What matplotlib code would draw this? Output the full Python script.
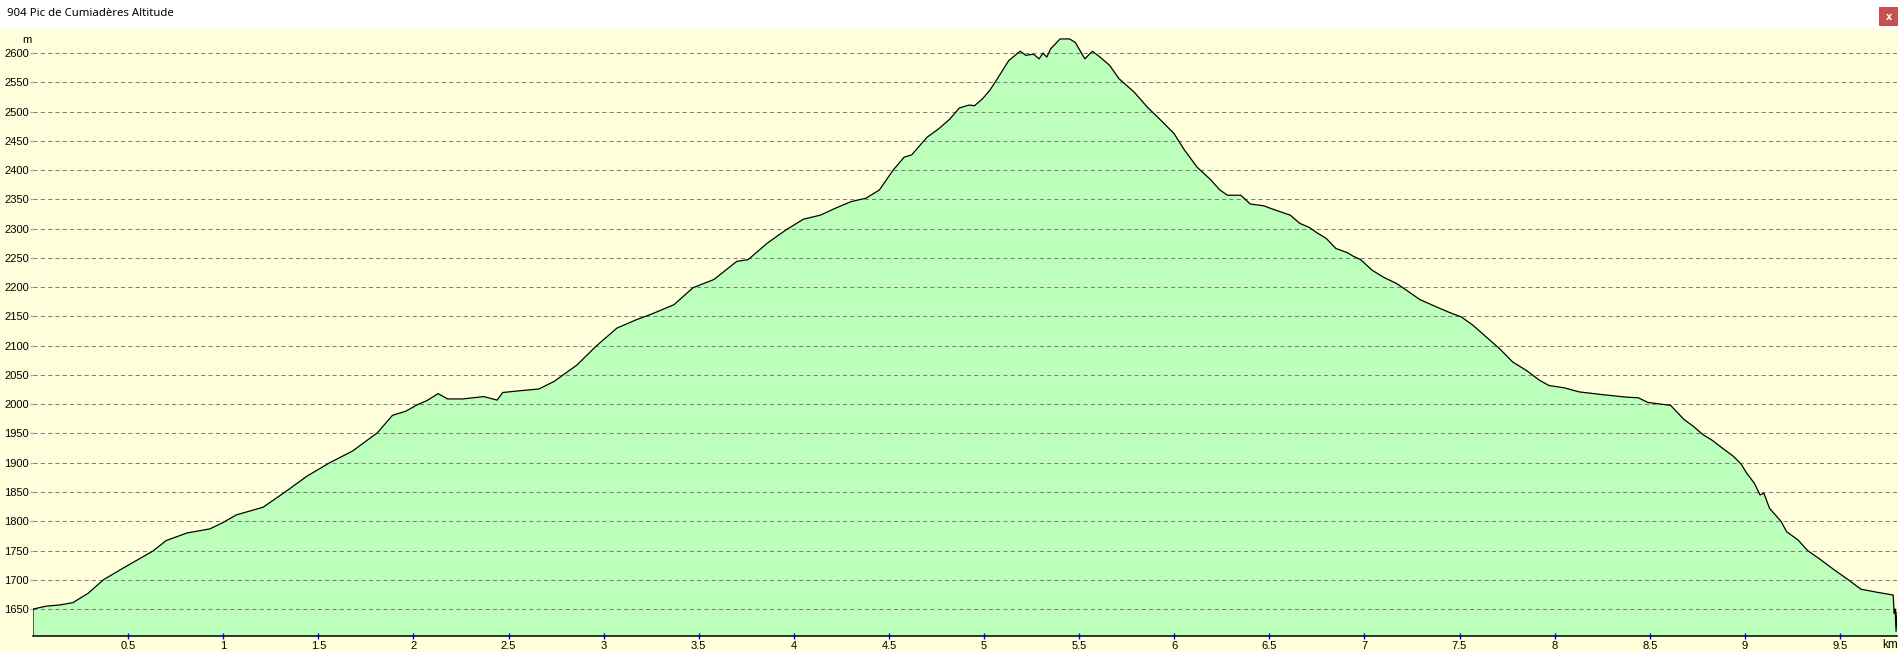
import numpy as np
import matplotlib
matplotlib.use('Agg')
import matplotlib.pyplot as plt
from matplotlib.patches import Rectangle

# profile: distance (km) / altitude (m)
dist_km = [0.00, 0.07, 0.14, 0.21, 0.29, 0.37, 0.49, 0.63, 0.70, 0.81, 0.93, 1.00,
           1.07, 1.21, 1.33, 1.44, 1.56, 1.68, 1.81, 1.89, 1.96, 2.02, 2.07, 2.13,
           2.18, 2.26, 2.37, 2.44, 2.47, 2.56, 2.66, 2.74, 2.86, 2.96, 3.07, 3.17,
           3.26, 3.37, 3.47, 3.58, 3.70, 3.76, 3.86, 3.96, 4.05, 4.14, 4.22, 4.30,
           4.38, 4.45, 4.52, 4.58, 4.62, 4.70, 4.76, 4.82, 4.87, 4.92, 4.95, 4.99,
           5.03, 5.07, 5.13, 5.19, 5.22, 5.26, 5.29, 5.31, 5.33, 5.35, 5.40, 5.45,
           5.48, 5.53, 5.57, 5.61, 5.66, 5.71, 5.79, 5.86, 5.93, 6.00, 6.05, 6.12,
           6.19, 6.24, 6.28, 6.35, 6.40, 6.47, 6.52, 6.61, 6.66, 6.71, 6.75, 6.80,
           6.85, 6.91, 6.94, 6.98, 7.04, 7.10, 7.17, 7.22, 7.29, 7.38, 7.46, 7.51,
           7.57, 7.64, 7.71, 7.78, 7.85, 7.92, 7.97, 8.05, 8.13, 8.26, 8.38, 8.44,
           8.49, 8.61, 8.63, 8.68, 8.73, 8.78, 8.83, 8.89, 8.94, 8.98, 9.01, 9.05,
           9.08, 9.10, 9.13, 9.19, 9.22, 9.28, 9.33, 9.40, 9.47, 9.54, 9.61, 9.69,
           9.78, 9.785, 9.79, 9.795, 9.80]
alt_m = [1650, 1655, 1657, 1661, 1677, 1700, 1723, 1749, 1767, 1780, 1787, 1798,
         1811, 1824, 1851, 1877, 1900, 1920, 1951, 1981, 1988, 1999, 2006, 2018,
         2009, 2009, 2013, 2007, 2020, 2023, 2026, 2039, 2067, 2099, 2130, 2144,
         2155, 2170, 2199, 2213, 2244, 2247, 2275, 2298, 2316, 2323, 2335, 2346,
         2352, 2366, 2399, 2422, 2426, 2456, 2470, 2487, 2506, 2511, 2510, 2521,
         2536, 2556, 2587, 2603, 2596, 2598, 2590, 2600, 2593, 2607, 2624, 2624,
         2618, 2590, 2603, 2593, 2579, 2556, 2533, 2507, 2485, 2462, 2436, 2405,
         2384, 2366, 2357, 2357, 2342, 2339, 2333, 2323, 2309, 2302, 2293, 2283,
         2266, 2259, 2253, 2247, 2229, 2217, 2206, 2195, 2179, 2166, 2155, 2149,
         2135, 2115, 2095, 2072, 2058, 2041, 2032, 2028, 2021, 2016, 2012, 2011,
         2003, 1998, 1991, 1974, 1962, 1948, 1938, 1923, 1911, 1898, 1882, 1865,
         1845, 1848, 1822, 1800, 1782, 1768, 1750, 1734, 1717, 1701, 1684, 1679,
         1674, 1643, 1650, 1612, 1645]

y_ticks = list(range(1650, 2601, 50))
x_ticks = [0.5, 1, 1.5, 2, 2.5, 3, 3.5, 4, 4.5, 5, 5.5, 6, 6.5, 7, 7.5, 8, 8.5, 9, 9.5]
x_labels = ['0.5', '1', '1.5', '2', '2.5', '3', '3.5', '4', '4.5', '5', '5.5',
            '6', '6.5', '7', '7.5', '8', '8.5', '9', '9.5']
title = '904 Pic de Cumiadères Altitude'

y_min, y_max = 1604, 2641
x_max = 9.80

W, H = 1899, 652
fig = plt.figure(figsize=(W / 100, H / 100), dpi=100)
fig.patch.set_facecolor('white')
yellow = '#FFFFDC'
fig.add_artist(Rectangle((0, 0), 1, (H - 29) / H, transform=fig.transFigure,
                         facecolor=yellow, edgecolor='none', zorder=0))

ax = fig.add_axes([33 / W, (H - 636) / H, 1864 / W, 607 / H])
ax.set_facecolor(yellow)
ax.set_xlim(0, x_max)
ax.set_ylim(y_min, y_max)

ax.fill_between(dist_km, alt_m, y_min, color='#BBFFBB', lw=0, zorder=1)
ax.plot([0] + dist_km, [y_min] + alt_m, color='black', lw=0.9, zorder=3)

ax.set_yticks(y_ticks)
ax.set_yticklabels([str(v) for v in y_ticks])
ax.yaxis.grid(True, color='#808080', lw=0.75, linestyle=(0, (4, 3)))
ax.set_axisbelow(False)
ax.set_xticks(x_ticks)
ax.set_xticklabels(x_labels)

for s in ['left', 'right', 'top']:
    ax.spines[s].set_visible(False)
ax.spines['bottom'].set_color('black')
ax.spines['bottom'].set_linewidth(1.1)

ax.tick_params(axis='x', direction='inout', length=5, width=1, color='#0000FF',
               pad=1, labelsize=8)
ax.tick_params(axis='y', direction='out', length=2, width=1, color='#7FB2E5',
               pad=1, labelsize=8)
for lab in ax.get_xticklabels() + ax.get_yticklabels():
    lab.set_fontfamily('Liberation Sans')

fig.text(27 / W, 1 - 40 / H, 'm', ha='center', va='center', fontsize=8,
         family='Liberation Sans')
fig.text(1890 / W, 1 - 645 / H, 'km', ha='center', va='center', fontsize=8.5,
         family='Liberation Sans')
fig.text(7 / W, 1 - 14 / H, title, ha='left', va='center', fontsize=8.2,
         family='Noto Sans')

# close button top right
fig.add_artist(Rectangle((1879 / W, 1 - 26 / H), 19 / W, 19 / H,
                         transform=fig.transFigure, facecolor='#C75050',
                         edgecolor='none'))
fig.text(1888.5 / W, 1 - 16.5 / H, 'x', ha='center', va='center', fontsize=7,
         color='white', fontweight='bold', family='DejaVu Sans')

fig.savefig('out.png', dpi=100)
